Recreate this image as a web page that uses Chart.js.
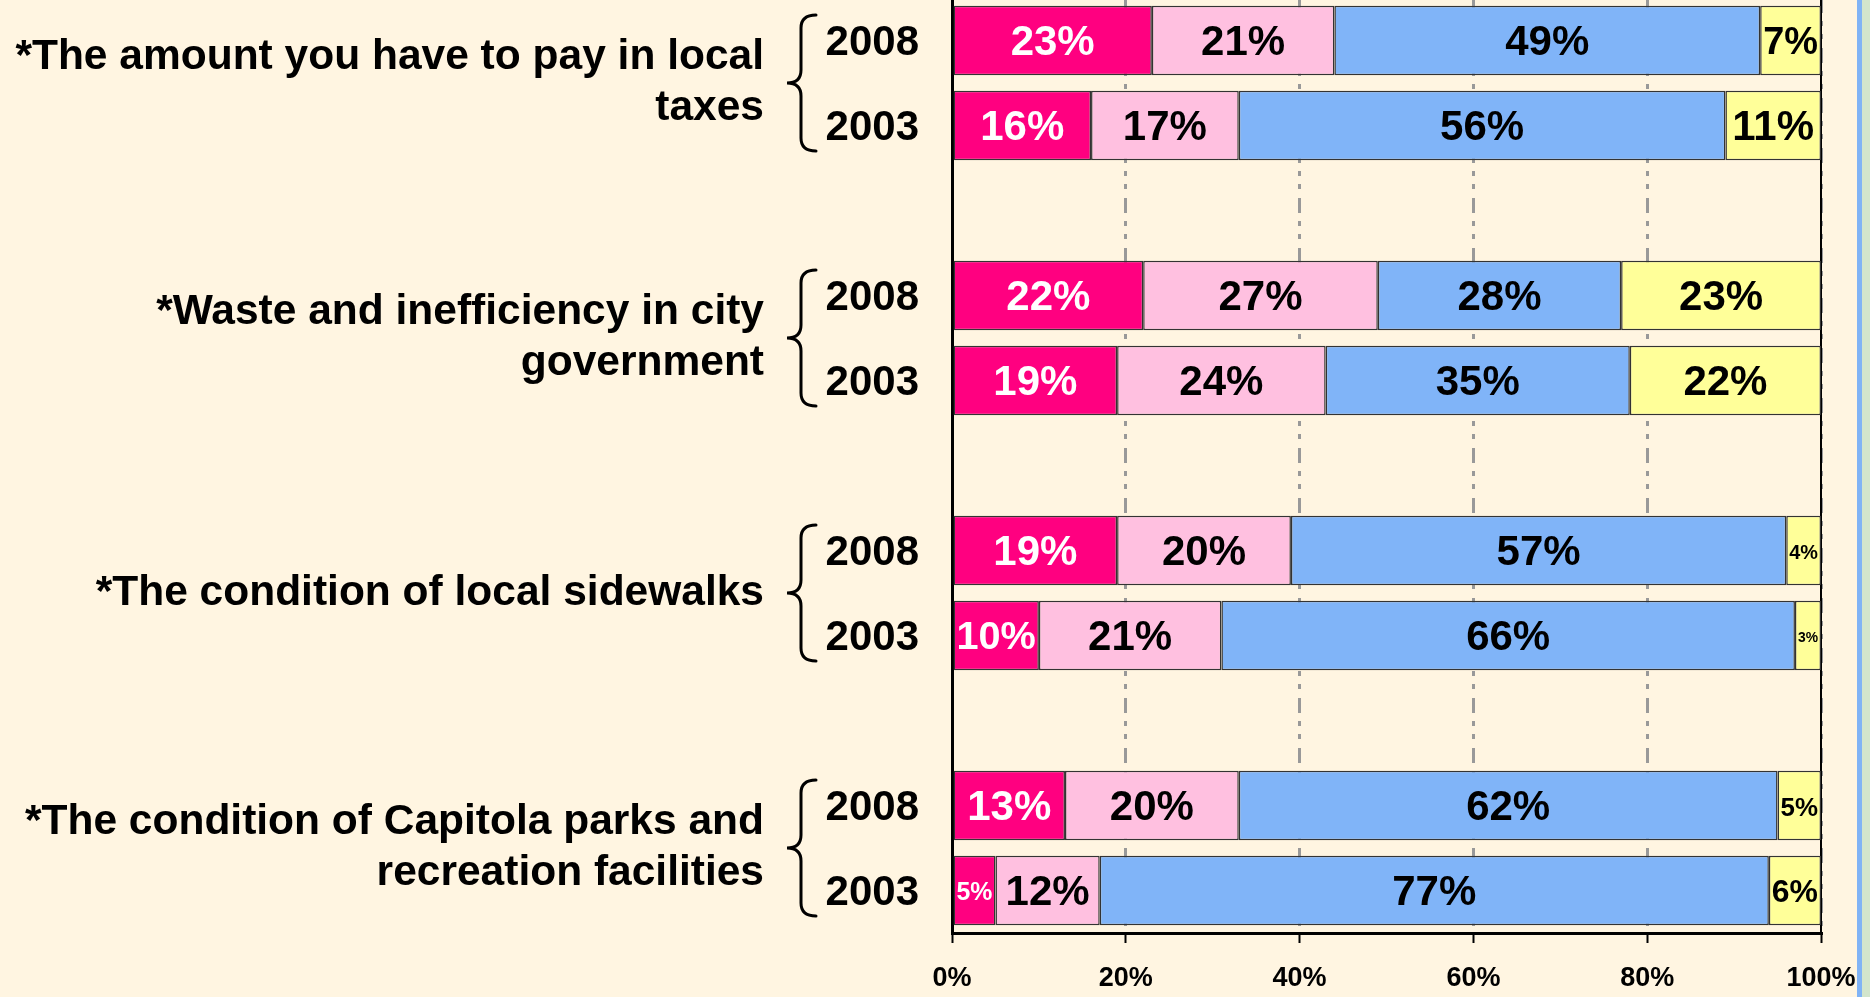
<!DOCTYPE html>
<html><head><meta charset="utf-8">
<script src="https://cdn.jsdelivr.net/npm/chart.js@4/dist/chart.umd.min.js"></script>
<style>
html,body{margin:0;padding:0;width:1870px;height:997px;overflow:hidden;background:#FFF5E1;}
#wrap{position:absolute;left:0;top:-2px;width:1857px;height:999px;}
#stripeBlue{position:absolute;left:1857px;top:0;width:5px;height:997px;background:#80B3F5;}
#stripeGreen{position:absolute;left:1862px;top:0;width:8px;height:997px;background:#D2E5CC;}
</style></head><body>
<div id="wrap"><canvas id="c" width="1857" height="999" style="width:1857px;height:999px"></canvas></div>
<div id="stripeBlue"></div><div id="stripeGreen"></div>
<script>
// ---- data ----
const groupLabels = [
  ["*The amount you have to pay in local", "taxes"],
  ["*Waste and inefficiency in city", "government"],
  ["*The condition of local sidewalks"],
  ["*The condition of Capitola parks and", "recreation facilities"]
];
const years = ["2008", "2003"];
const seriesNames = ["Very serious problem", "Somewhat serious problem", "Not a problem", "Don't know"];
// rows in order: taxes 2008, taxes 2003, waste 2008, waste 2003, sidewalks 2008, sidewalks 2003, parks 2008, parks 2003
const seriesVery     = [23, 16, 22, 19, 19, 10, 13, 5];
const seriesSomewhat = [21, 17, 27, 24, 20, 21, 20, 12];
const seriesNot      = [49, 56, 28, 35, 57, 66, 62, 77];
const seriesDontKnow = [7, 11, 23, 22, 4, 3, 5, 6];
const xTickValues = [0, 20, 40, 60, 80, 100];

// ---- styles ----
const seriesColors = ["#FF0080", "#FFC0E0", "#80B4F8", "#FFFF99"];
const labelColors = ["#FFFFFF", "#000000", "#000000", "#000000"];
const FONT = '"Liberation Sans", Arial, Helvetica, sans-serif';

// ---- build slots (two years per group, blank spacer between groups) ----
const slotLabels = [];
const slotRow = [];
const groupStart = [];
groupLabels.forEach((g, gi) => {
  groupStart.push(slotLabels.length);
  years.forEach((y, yi) => { slotLabels.push(y); slotRow.push(gi * years.length + yi); });
  if (gi < groupLabels.length - 1) { slotLabels.push(""); slotRow.push(null); }
});
// boundary labels: one entry per slot boundary (n+1), group text sits on the boundary between its two years
const boundaryLabels = Array.from({ length: slotLabels.length + 1 }, () => "");
groupStart.forEach((s, gi) => { boundaryLabels[s + 1] = groupLabels[gi]; });

const allSeries = [seriesVery, seriesSomewhat, seriesNot, seriesDontKnow];
const datasets = allSeries.map((s, si) => ({
  label: seriesNames[si],
  data: slotRow.map(r => r === null ? null : s[r]),
  backgroundColor: seriesColors[si],
  borderColor: "#333333",
  borderWidth: 1.5,
  borderSkipped: false,
  barPercentage: 0.815,
  categoryPercentage: 1.0
}));

const noPad = s => { s.paddingTop = 0; s.paddingBottom = 0; s.paddingLeft = 0; s.paddingRight = 0; };

const barLabels = {
  id: "barLabels",
  afterDatasetsDraw(chart) {
    const ctx = chart.ctx;
    chart.data.datasets.forEach((ds, di) => {
      const meta = chart.getDatasetMeta(di);
      meta.data.forEach((el, i) => {
        const v = ds.data[i];
        if (v === null || v === undefined) return;
        const p = el.getProps(["x", "y", "base"], true);
        const w = Math.abs(p.x - p.base);
        const text = v + "%";
        ctx.save();
        let size = 42;
        ctx.font = "bold " + size + "px " + FONT;
        const tw = ctx.measureText(text).width;
        if (tw > w - 6) size = Math.max(9, size * (w - 6) / tw);
        ctx.font = "bold " + size + "px " + FONT;
        ctx.fillStyle = labelColors[di];
        ctx.textAlign = "center";
        ctx.textBaseline = "middle";
        ctx.fillText(text, (p.x + p.base) / 2, p.y + 3);
        ctx.restore();
      });
    });
  }
};

const braces = {
  id: "braces",
  afterDraw(chart) {
    const ys = chart.scales.y;
    const ctx = chart.ctx;
    ctx.save();
    ctx.strokeStyle = "#000";
    ctx.lineWidth = 3;
    ctx.lineCap = "round";
    groupStart.forEach(s0 => {
      const p0 = ys.getPixelForValue(s0), p1 = ys.getPixelForValue(s0 + 1);
      const c = (p0 + p1) / 2, h = (p1 - p0) * 0.8;
      const xl = ys.left + 7, xm = ys.left + 21, xr = ys.left + 36;
      const top = c - h, bot = c + h, r = 13;
      ctx.beginPath();
      ctx.moveTo(xr, top);
      ctx.quadraticCurveTo(xm, top, xm, top + r);
      ctx.lineTo(xm, c - r);
      ctx.quadraticCurveTo(xm, c, xl, c);
      ctx.quadraticCurveTo(xm, c, xm, c + r);
      ctx.lineTo(xm, bot - r);
      ctx.quadraticCurveTo(xm, bot, xr, bot);
      ctx.stroke();
    });
    ctx.restore();
  }
};

new Chart(document.getElementById("c"), {
  type: "bar",
  data: { labels: slotLabels, datasets },
  plugins: [barLabels, braces],
  options: {
    indexAxis: "y",
    responsive: false,
    devicePixelRatio: 1,
    animation: false,
    events: [],
    layout: { autoPadding: false, padding: { left: 0, top: 0, bottom: 0, right: 36 } },
    plugins: { legend: { display: false }, tooltip: { enabled: false }, title: { display: false } },
    scales: {
      x: {
        type: "linear", stacked: true, min: 0, max: 100, position: "bottom",
        afterBuildTicks: s => { s.ticks = xTickValues.map(v => ({ value: v })); },
        afterFit: s => { s.height = 64; noPad(s); },
        ticks: { callback: v => v + "%", font: { family: FONT, size: 27, weight: "bold" }, color: "#000", padding: 19, autoSkip: false, maxRotation: 0 },
        grid: {
          color: c => (c.tick && c.tick.value === 0) ? "rgba(0,0,0,0)" : "#999999",
          lineWidth: 3, drawTicks: true, tickColor: "#000", tickWidth: 2, tickLength: 10, tickBorderDash: []
        },
        border: { display: true, color: "#000", width: 3, dash: [15, 8, 5, 8, 5, 9] }
      },
      y: {
        type: "category", stacked: true, position: "left", weight: 0, offset: true,
        afterFit: s => { s.width = 172; noPad(s); },
        grid: { display: false, drawTicks: false },
        border: { display: true, color: "#000", width: 3 },
        ticks: { font: { family: FONT, size: 42, weight: "bold" }, color: "#000", padding: 33, autoSkip: false, labelOffset: 3 }
      },
      yg: {
        type: "category", position: "left", weight: 10, offset: false, labels: boundaryLabels,
        afterFit: s => { s.width = 780; noPad(s); },
        grid: { display: false, drawTicks: false },
        border: { display: false },
        ticks: {
          font: { family: FONT, size: 42.5, weight: "bold", lineHeight: 1.19 }, color: "#000", padding: 16, autoSkip: false
        }
      },
      yr: {
        type: "category", position: "right", offset: true,
        afterFit: s => { s.width = 0; noPad(s); },
        grid: { display: false, drawTicks: false },
        ticks: { display: false },
        border: { display: true, color: "#000", width: 2 }
      }
    }
  }
});
</script>
</body></html>
